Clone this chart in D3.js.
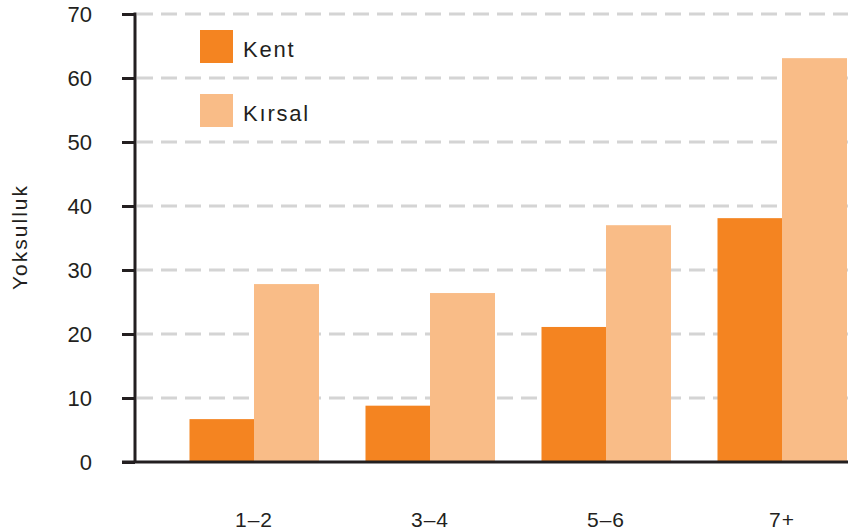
<!DOCTYPE html>
<html>
<head>
<meta charset="utf-8">
<script src="https://cdn.jsdelivr.net/npm/d3@7"></script>
<style>
  body { margin: 0; background: #fff; }
  text { font-family: "Liberation Sans", Arial, sans-serif; fill: #231f20; }
</style>
</head>
<body>
<svg id="root"></svg>
<script>
const categories = ["1–2", "3–4", "5–6", "7+"];
const series = ["Kent", "Kırsal"];
const kent = [6.7, 8.8, 21.1, 38.1];
const kirsal = [27.8, 26.4, 37.0, 63.1];
const yTicks = [0, 10, 20, 30, 40, 50, 60, 70];
const colors = ["#f48421", "#f9bc87"];

const width = 848;
const height = 530;

const svg = d3.select("#root")
  .attr("width", width)
  .attr("height", height);

const axisX = 135;
const y = d3.scaleLinear().domain([0, 70]).range([462, 14]);

// groups, step of 176px
const x0 = d3.scaleBand()
  .domain(categories)
  .range([166, 870])
  .paddingInner(0.267)
  .paddingOuter(0.1335);
const x1 = d3.scaleBand()
  .domain(series)
  .range([0, x0.bandwidth()]);

// grid lines
svg.append("g")
  .selectAll("line")
  .data(yTicks.filter(d => d > 0))
  .enter()
  .append("line")
  .attr("x1", axisX + 2)
  .attr("x2", width)
  .attr("y1", d => y(d))
  .attr("y2", d => y(d))
  .attr("stroke", "#d4d4d4")
  .attr("stroke-width", 3)
  .attr("stroke-dasharray", "16 8");

// bars
const rows = categories.map((c, i) => ({ cat: c, values: [kent[i], kirsal[i]] }));
const groups = svg.append("g")
  .selectAll("g")
  .data(rows)
  .enter()
  .append("g")
  .attr("transform", d => `translate(${x0(d.cat)},0)`);

groups.selectAll("rect")
  .data(d => d.values.map((v, j) => ({ key: series[j], v, j })))
  .enter()
  .append("rect")
  .attr("x", d => x1(d.key))
  .attr("width", x1.bandwidth() + 0.5)
  .attr("y", d => y(d.v))
  .attr("height", d => y(0) - y(d.v))
  .attr("fill", d => colors[d.j]);

// y axis
const yAxis = d3.axisLeft(y)
  .tickValues(yTicks)
  .tickSize(13)
  .tickPadding(30)
  .tickFormat(d3.format("d"));

const gy = svg.append("g")
  .attr("transform", `translate(${axisX},0)`)
  .call(yAxis);
gy.select(".domain").remove();
gy.selectAll(".tick line").attr("stroke", "#231f20").attr("stroke-width", 3);
gy.selectAll(".tick text")
  .attr("font-size", 22)
  .attr("fill", "#231f20")
  .style("font-family", "'Liberation Sans', Arial, sans-serif");

svg.append("line")
  .attr("x1", axisX).attr("x2", axisX)
  .attr("y1", y(70) - 1.5).attr("y2", y(0))
  .attr("stroke", "#231f20").attr("stroke-width", 3);

// x axis line
svg.append("line")
  .attr("x1", axisX - 13).attr("x2", width)
  .attr("y1", y(0)).attr("y2", y(0))
  .attr("stroke", "#231f20").attr("stroke-width", 3);

// category labels
svg.append("g")
  .selectAll("text")
  .data(categories)
  .enter()
  .append("text")
  .attr("x", d => x0(d) + x0.bandwidth() / 2)
  .attr("y", 527)
  .attr("text-anchor", "middle")
  .attr("font-size", 21)
  .attr("letter-spacing", 1)
  .text(d => d);

// y label
svg.append("text")
  .attr("transform", "translate(27,237) rotate(-90)")
  .attr("text-anchor", "middle")
  .attr("font-size", 21)
  .attr("letter-spacing", 2)
  .text("Yoksulluk");

// legend
const legend = svg.append("g")
  .selectAll("g")
  .data(series)
  .enter()
  .append("g")
  .attr("transform", (d, i) => `translate(200,${30 + i * 64})`);
legend.append("rect")
  .attr("width", 33)
  .attr("height", 33)
  .attr("fill", (d, i) => colors[i]);
legend.append("text")
  .attr("x", 43)
  .attr("y", 27)
  .attr("font-size", 22)
  .attr("letter-spacing", 1.8)
  .text(d => d);
</script>
</body>
</html>
